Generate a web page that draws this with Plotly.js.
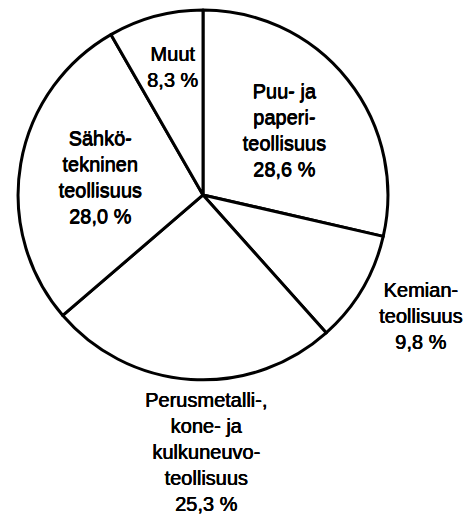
<!DOCTYPE html>
<html>
<head>
<meta charset="utf-8">
<script src="https://cdn.plot.ly/plotly-3.0.1.min.js"></script>
<style>html,body{margin:0;padding:0;background:#fff;}#chart{width:476px;height:515px;}</style>
</head>
<body>
<div id="chart"></div>
<script>
var labels = ["Puu- ja paperiteollisuus", "Kemianteollisuus", "Perusmetalli-, kone- ja kulkuneuvoteollisuus", "Sähkötekninen teollisuus", "Muut"];
var values = [28.6, 9.8, 25.3, 28.0, 8.3];
var labelTexts = [
  "Puu- ja<br>paperi-<br>teollisuus<br>28,6 %",
  "Kemian-<br>teollisuus<br>9,8 %",
  "Perusmetalli-,<br>kone- ja<br>kulkuneuvo-<br>teollisuus<br>25,3 %",
  "Sähkö-<br>tekninen<br>teollisuus<br>28,0 %",
  "Muut<br>8,3 %"
];
// which labels the pie draws itself; the rest are placed as annotations
var pieDrawn = [true, false, false, true, false];
var labelPx = [null, [420, 316], [206, 452], null, [172, 67]];

var W = 476, H = 515;
var FONT = {family: "Liberation Sans, Arial, sans-serif", size: 20, color: "#000000",
            shadow: "0.5px 0 0 #000000, 0 0.3px 0 #000000"};

var trace = {
  type: "pie",
  labels: labels,
  values: values,
  text: labelTexts.map(function (t, i) { return pieDrawn[i] ? t : ""; }),
  textinfo: "text",
  textposition: "inside",
  insidetextorientation: "horizontal",
  sort: false,
  direction: "clockwise",
  rotation: 0,
  hoverinfo: "none",
  marker: {colors: values.map(function () { return "#ffffff"; }), line: {color: "#000000", width: 3}},
  textfont: FONT,
  insidetextfont: FONT,
  domain: {x: [0.038, 0.815], y: [0.262, 0.981]},
  automargin: false
};

var annotations = [];
labelTexts.forEach(function (t, i) {
  if (pieDrawn[i]) return;
  annotations.push({
    xref: "paper", yref: "paper",
    x: labelPx[i][0] / W, y: 1 - labelPx[i][1] / H,
    xanchor: "center", yanchor: "middle", align: "center",
    showarrow: false, text: t, font: FONT
  });
});

var layout = {
  width: W,
  height: H,
  margin: {l: 0, r: 0, t: 0, b: 0},
  showlegend: false,
  paper_bgcolor: "#ffffff",
  plot_bgcolor: "#ffffff",
  annotations: annotations
};

Plotly.newPlot("chart", [trace], layout, {displayModeBar: false, staticPlot: true});
</script>
</body>
</html>
